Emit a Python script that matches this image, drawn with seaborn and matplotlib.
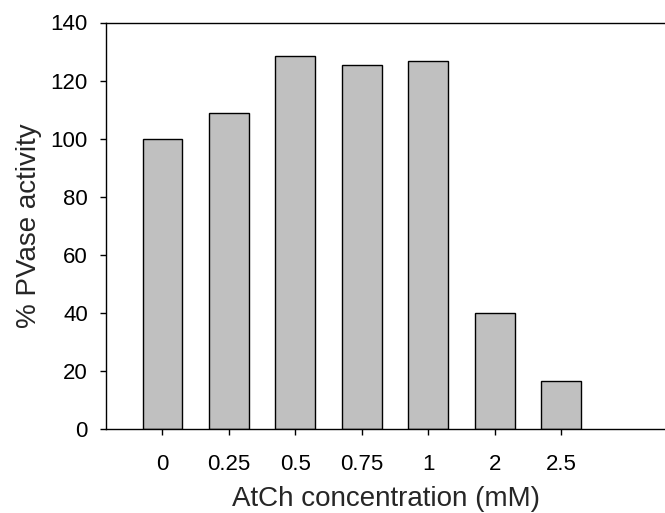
import matplotlib
matplotlib.use("Agg")
import matplotlib.pyplot as plt
import seaborn as sns
import pandas as pd

concentrations = ["0", "0.25", "0.5", "0.75", "1", "2", "2.5"]
activity = [100, 109, 128.5, 125.2, 126.7, 40, 16.5]

sns.set_style("white")
plt.rcParams['font.family'] = ['Liberation Sans', 'DejaVu Sans']

df = pd.DataFrame({"conc": concentrations, "act": activity})

fig = plt.figure(figsize=(6.65, 5.13), dpi=100)
ax = fig.add_axes([106/665, 84/513, 1 - 106/665, (429 - 22.5)/513])
sns.barplot(data=df, x="conc", y="act", color="#c0c0c0", saturation=1,
            edgecolor="black", linewidth=1, width=0.6, ax=ax)
ax.set_xlim(-0.85, 7.56)
ax.set_ylim(0, 140)
ax.set_yticks(range(0, 141, 20))
ax.set_xlabel("AtCh concentration (mM)", fontsize=20, labelpad=8)
ax.set_ylabel("% PVase activity", fontsize=20, labelpad=6)
ax.tick_params(axis="both", labelsize=16, length=4, width=1, color="black",
               direction="out", labelcolor="black")
ax.tick_params(axis="x", pad=14)
ax.tick_params(axis="y", pad=9)
ax.tick_params(left=True, bottom=True)
for s in ["left", "bottom", "top"]:
    ax.spines[s].set_visible(True)
    ax.spines[s].set_color("black")
    ax.spines[s].set_linewidth(1)
ax.spines["right"].set_visible(False)

fig.savefig("out.png", dpi=100)
